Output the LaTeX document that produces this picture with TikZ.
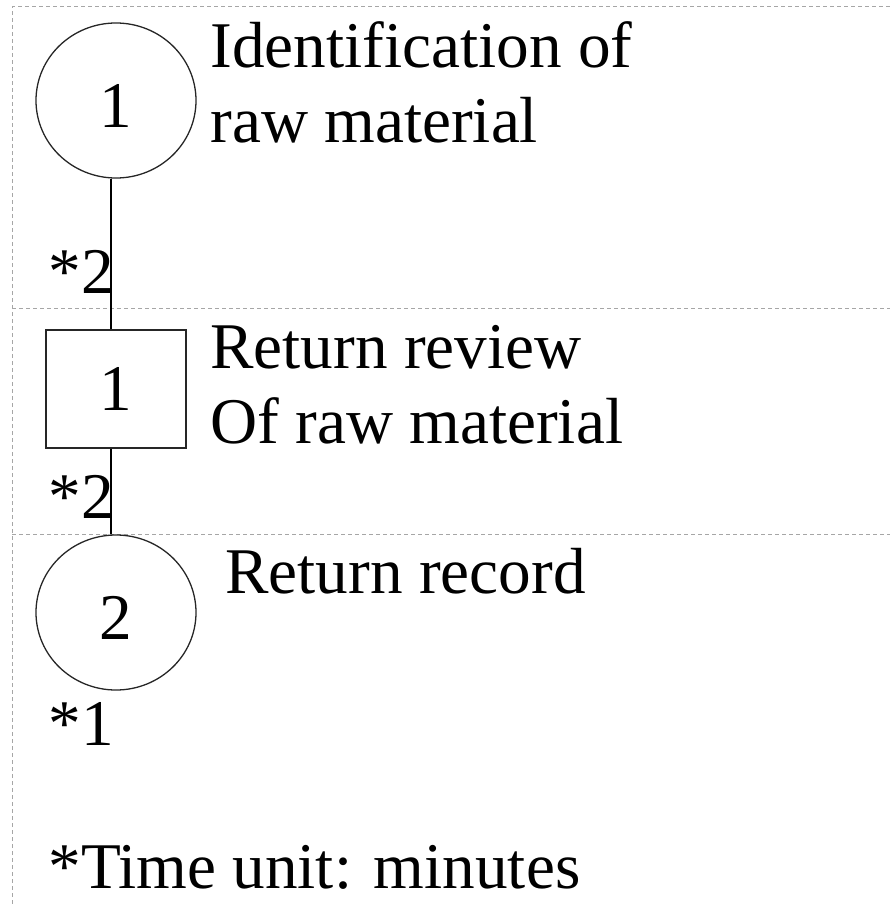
\documentclass[tikz,border=0pt]{standalone}
\usepackage{fontspec}
\setmainfont{Liberation Serif}
\usetikzlibrary{shapes.geometric}
\begin{document}
\begin{tikzpicture}[x=0.5pt,y=-0.5pt,
  txt/.style={anchor=base west,inner sep=0pt,font=\fontsize{32.6}{37}\selectfont},
  opcircle/.style={draw=black!85,line width=0.65pt,ellipse,inner sep=0pt,minimum width=80pt,minimum height=77.5pt,text height=26.5pt,font=\fontsize{32.6}{37}\selectfont},
  opbox/.style={draw=black!85,line width=0.65pt,rectangle,inner sep=0pt,minimum width=70pt,minimum height=59pt,font=\fontsize{32.6}{37}\selectfont},
  conn/.style={line width=1.3pt,black},
  sep/.style={draw=black!35,line width=0.5pt,dash pattern=on 2pt off 1.5pt}]
\useasboundingbox (0,0) rectangle (890,904);
% separators
\coordinate (tl) at (12,7);
\coordinate (tr) at (890,7);
\coordinate (bl) at (12,904);
\coordinate (m1l) at (12,308);
\coordinate (m1r) at (890,308);
\coordinate (m2l) at (12,534);
\coordinate (m2r) at (890,534);
\draw[sep] (bl) -- (tl) -- (tr);
\draw[sep] (m1l) -- (m1r);
\draw[sep] (m2l) -- (m2r);
% nodes
\node[opcircle] (c1) at (116,100.5) {1};
\node[opbox] (b1) at (116,389) {1};
\node[opcircle] (c2) at (116,612.5) {2};
% connectors
\draw[conn] ([xshift=-2.5pt]c1.south) -- ([xshift=-2.5pt]b1.north);
\draw[conn] ([xshift=-2.5pt]b1.south) -- ([xshift=-2.5pt]c2.north);
% labels
\node[txt] (t1a) at (210,68) {Identification of};
\node[txt] (t1b) at (210,142) {raw material};
\node[txt] (t2a) at (210,368) {Return review};
\node[txt] (t2b) at (210,443) {Of raw material};
\node[txt] (t3a) at (225,593) {Return record};
\node[txt] (n1) at (48,293) {*2};
\node[txt] (n2) at (48,518) {*2};
\node[txt] (n3) at (48,745) {*1};
\node[txt] (note) at (48,888) {*Time unit: minutes};
\end{tikzpicture}
\end{document}
